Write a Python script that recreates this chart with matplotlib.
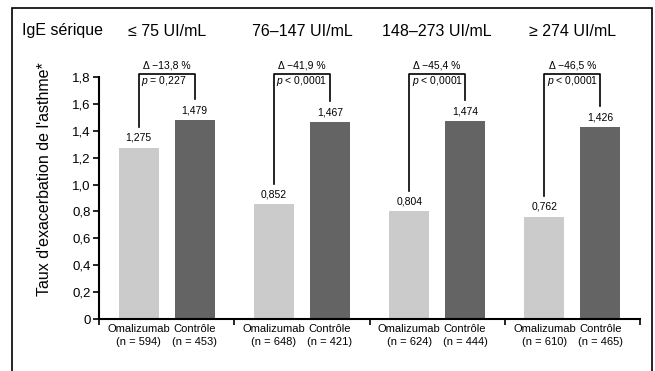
import numpy as np
import matplotlib
matplotlib.use('Agg')
import matplotlib.pyplot as plt
import matplotlib.transforms as mtransforms
from matplotlib.patches import Rectangle

plt.rcParams['font.family'] = ['Liberation Sans', 'DejaVu Sans']
plt.rcParams['mathtext.fontset'] = 'custom'
plt.rcParams['mathtext.it'] = 'Liberation Sans:italic'
plt.rcParams['mathtext.rm'] = 'Liberation Sans'

# data
groups = ['\u2264 75 UI/mL', '76\u2013147 UI/mL', '148\u2013273 UI/mL', '\u2265 274 UI/mL']
omalizumab = [1.275, 0.852, 0.804, 0.762]
controle = [1.479, 1.467, 1.474, 1.426]
n_omal = [594, 648, 624, 610]
n_ctrl = [453, 421, 444, 465]
deltas = ['\u221213,8', '\u221241,9', '\u221245,4', '\u221246,5']
pvals = ['= 0,227', '< 0,0001', '< 0,0001', '< 0,0001']
yticks = [0, 0.2, 0.4, 0.6, 0.8, 1.0, 1.2, 1.4, 1.6, 1.8]

light = '#cbcbcb'
dark = '#646464'

fig = plt.figure(figsize=(6.55, 3.71), dpi=100)
ax = fig.add_axes([99/655, 52/371, 541/655, 242/371])

x = np.arange(len(groups))
off = 0.207
w = 0.296
ax.bar(x - off, omalizumab, width=w, color=light)
ax.bar(x + off, controle, width=w, color=dark)

ax.set_xlim(-0.5, 3.5)
ax.set_ylim(0, 1.8)
ax.set_yticks(yticks)
ax.set_yticklabels(['0' if v == 0 else ('%.1f' % v).replace('.', ',') for v in yticks], fontsize=9.5)
ax.set_xticks(np.arange(-0.5, 4, 1.0))
ax.set_xticklabels([])
for s in ['top', 'right']:
    ax.spines[s].set_visible(False)
for s in ['left', 'bottom']:
    ax.spines[s].set_linewidth(1.5)
ax.tick_params(axis='both', direction='out', length=4, width=1.2, pad=2)

for i in range(len(groups)):
    a, c = omalizumab[i], controle[i]
    ax.text(i - off, a + 0.035, ('%.3f' % a).replace('.', ','), ha='center', va='bottom', fontsize=7.5)
    ax.text(i + off, c + 0.035, ('%.3f' % c).replace('.', ','), ha='center', va='bottom', fontsize=7.5)
    top = 1.825
    ax.plot([i - off, i - off, i + off, i + off], [a + 0.15, top, top, c + 0.155],
            color='black', lw=1.2, clip_on=False)
    ax.text(i, 1.885, '\u0394 ' + deltas[i] + ' %', ha='center', va='center', fontsize=7.5)
    ax.text(i - off + 0.018, 1.77, '$p$ ' + pvals[i], ha='left', va='center', fontsize=7.5)
    ax.text(i - off, -0.04, 'Omalizumab\n(n = %d)' % n_omal[i], ha='center', va='top',
            fontsize=8, linespacing=1.3)
    ax.text(i + off, -0.04, 'Contr\u00f4le\n(n = %d)' % n_ctrl[i], ha='center', va='top',
            fontsize=8, linespacing=1.3)

trans = mtransforms.blended_transform_factory(ax.transData, fig.transFigure)
for i, g in enumerate(groups):
    ax.text(i, (371 - 31) / 371, g, transform=trans, ha='center', va='center', fontsize=11.5)
fig.text(22/655, (371 - 31) / 371, 'IgE s\u00e9rique', ha='left', va='center', fontsize=11.5)

fig.text(45/655, (371 - 179) / 371, "Taux d'exacerbation de l'asthme*", rotation=90,
         ha='center', va='center', fontsize=11.5)

fig.add_artist(Rectangle((12/655, -0.1), 640/655, (371 - 8) / 371 + 0.1,
                         transform=fig.transFigure, fill=False, lw=1.2, ec='black'))

fig.savefig('out.png', dpi=100)
